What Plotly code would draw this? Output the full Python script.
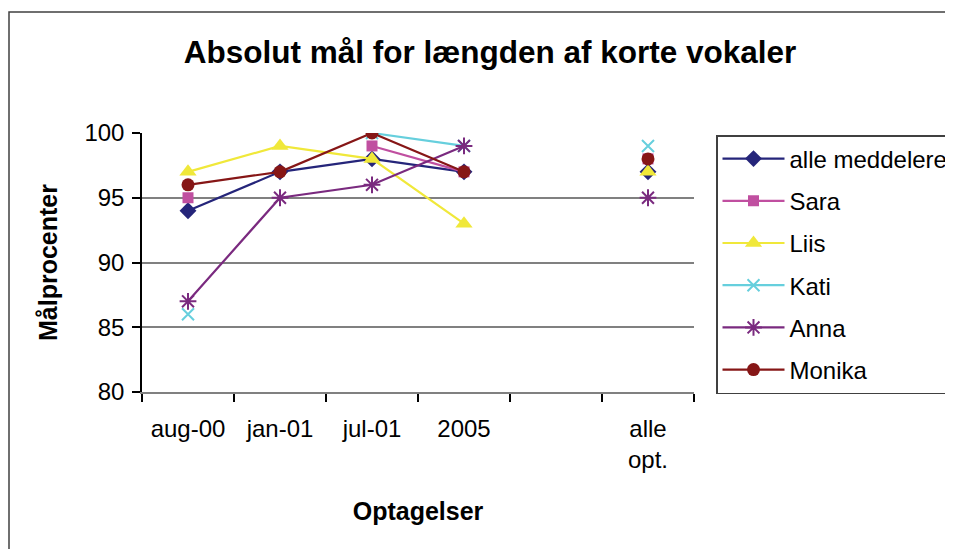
import plotly.graph_objects as go

categories = ["aug-00", "jan-01", "jul-01", "2005", " ", "alle<br>opt."]

alle_meddelere = [94, 97, 98, 97, None, 97]
sara = [95, None, 99, 97, None, 98]
liis = [97, 99, 98, 93, None, 97]
kati = [86, None, 100, 99, None, 99]
anna = [87, 95, 96, 99, None, 95]
monika = [96, 97, 100, 97, None, 98]

y_ticks = [80, 85, 90, 95, 100]

series = [
    ("alle meddelere", alle_meddelere, "#25257a", "diamond", 13, 0),
    ("Sara", sara, "#c04fa0", "square", 11, 0),
    ("Liis", liis, "#f0e83a", "triangle-up", 15, 0),
    ("Kati", kati, "#66cfdd", "x-thin", 12, 2),
    ("Anna", anna, "#7a2a7f", "asterisk", 14, 2),
    ("Monika", monika, "#861616", "circle", 13, 0),
]

# the page body adds an 8px offset; figure coordinates below account for it
W, H = 953, 549
L, R, T, B = 134, 686, 125, 384

fig = go.Figure()
for i, (name, vals, color, sym, size, lw) in enumerate(series):
    mk = dict(symbol=sym, size=size, color=color)
    if lw:
        mk["line"] = dict(color=color, width=lw)
    fig.add_trace(go.Scatter(
        x=categories, y=vals, name=name, mode="lines+markers",
        line=dict(color=color, width=2.2), marker=mk,
        connectgaps=False, legendgroup=f"g{i}",
    ))

pw, ph = R - L, B - T
fig.add_shape(type="rect", xref="paper", yref="paper",
              x0=(1 - L) / pw, x1=(W + 50 - L) / pw,
              y0=(B - (H + 50)) / ph, y1=(B - 4) / ph,
              line=dict(color="#404040", width=1.5), fillcolor="rgba(0,0,0,0)",
              layer="below")

fig.update_layout(
    width=W, height=H,
    margin=dict(l=L, r=W - R, t=T, b=H - B, autoexpand=False),
    paper_bgcolor="white", plot_bgcolor="white",
    font=dict(family="Liberation Sans, Arial, sans-serif", color="black", size=24),
    title=dict(text="<b>Absolut mål for længden af korte vokaler</b>",
               font=dict(size=31.5, color="black"),
               xref="container", yref="container",
               x=482 / W, xanchor="center", y=1 - 44 / H, yanchor="middle"),
    showlegend=True,
    legend=dict(xref="container", yref="container",
                x=708 / W, xanchor="left", y=1 - 127 / H, yanchor="top",
                bordercolor="#404040", borderwidth=1.5, bgcolor="white",
                font=dict(size=24), tracegroupgap=8, itemwidth=62),
    xaxis=dict(type="category", categoryorder="array", categoryarray=categories,
               range=[-0.5, 5.5], tickson="boundaries",
               ticks="outside", ticklen=8, tickcolor="black", tickwidth=1.5,
               showline=True, linecolor="#808080", linewidth=2,
               showgrid=False, tickfont=dict(size=24), ticklabelstandoff=14,
               title=dict(text="<b>Optagelser</b>", font=dict(size=25), standoff=30)),
    yaxis=dict(range=[80, 100], tickvals=y_ticks, ticks="outside", ticklen=8,
               tickcolor="black", tickwidth=1.5, ticklabelstandoff=3,
               showline=True, linecolor="black", linewidth=1.5,
               showgrid=True, gridcolor="#808080", gridwidth=1.5,
               zeroline=False, tickfont=dict(size=24),
               title=dict(text="<b>Målprocenter</b>", font=dict(size=25), standoff=20)),
)

fig.write_html("out.html")
